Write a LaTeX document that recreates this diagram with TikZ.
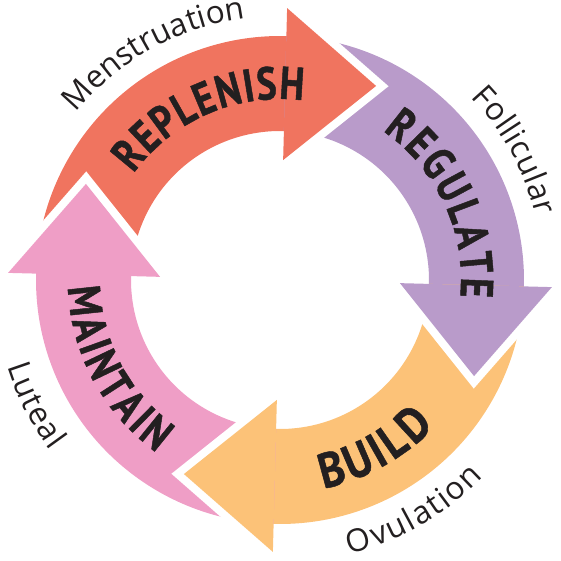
\documentclass[tikz,border=0pt]{standalone}
\usepackage{fontspec}
\usetikzlibrary{calc,decorations.text}
\newfontfamily\boldfam[FakeStretch=0.82,FakeBold=1]{PT Sans Bold}
\newfontfamily\boldwide[FakeStretch=0.88,FakeBold=1]{PT Sans Bold}
\newfontfamily\labfam{Open Sans}
\newcommand\wordfont{\boldfam\fontsize{46}{50}\selectfont}
\newcommand\buildfont{\boldwide\fontsize{49}{53}\selectfont}
\newcommand\labelfont{\labfam\fontsize{31.5}{35}\selectfont}
\definecolor{cred}{HTML}{F0745F}
\definecolor{cpurple}{HTML}{B99BCA}
\definecolor{corange}{HTML}{FCC278}
\definecolor{cpink}{HTML}{EF9EC6}
\definecolor{txt}{HTML}{231F20}
\tikzset{
  gapline/.style={white, line width=16pt, line join=miter, miter limit=10},
  fitpath/.style 2 args={decorate, decoration={text along path, text align={fit to path}, text color=txt, text={|#1|#2}}},
  centerpath/.style 2 args={decorate, decoration={text along path, text align=center, text color=txt, text={|#1|#2}}}
}
\begin{document}
\begin{tikzpicture}[x=1pt,y=1pt]
\useasboundingbox (-280,-281) rectangle (280,280);
\def\ri{149}\def\ro{244}\def\rm{196.5}
% shafts (run 1 degree under their own heads to avoid seams)
\foreach \h/\c in {88.5/cred, -1.5/cpurple, -91.5/corange, 178.5/cpink}{
  \fill[\c] ({\h+90}:\ro) arc[start angle={\h+90}, end angle={\h-1}, radius=\ro]
    -- ({\h-1}:\ri) arc[start angle={\h-1}, end angle={\h+90}, radius=\ri] -- cycle;
}
% heads
\foreach \h/\c/\n in {88.5/cred/red, -1.5/cpurple/purple, -91.5/corange/orange, 178.5/cpink/pink}{
  \coordinate (tip-\n) at ($(\h:\rm)+(\h-90:91)$);
  \coordinate (barbout-\n) at (\h:272);
  \coordinate (barbin-\n) at (\h:120);
  \draw[gapline] (barbout-\n) -- (tip-\n) -- (barbin-\n);
  \fill[\c] (barbout-\n) -- (tip-\n) -- (barbin-\n) -- cycle;
}
% words on the arrows
\path[fitpath={\wordfont}{REPLENISH}] (144:181) arc[start angle=144, end angle=82.6, radius=181];
\path[fitpath={\wordfont}{REGULATE}] (55.4:181) arc[start angle=55.4, end angle=-5.4, radius=181];
\path[fitpath={\buildfont}{BUILD}] (-78.2:213) arc[start angle=-78.2, end angle=-43.5, radius=213];
\path[fitpath={\wordfont}{MAINTAIN}] (182:212) arc[start angle=182, end angle=234.4, radius=212];
% phase labels
\path[centerpath={\labelfont}{Menstruation}] (179:264) arc[start angle=179, end angle=59, radius=264];
\path[fitpath={\labelfont}{Follicular}] (43.7:264) arc[start angle=43.7, end angle=14.1, radius=264];
\path[fitpath={\labelfont}{Ovulation}] (-75.7:283) arc[start angle=-75.7, end angle=-44, radius=283];
\path[fitpath={\labelfont}{Luteal}] (197.5:286) arc[start angle=197.5, end angle=216.6, radius=286];
\end{tikzpicture}
\end{document}
